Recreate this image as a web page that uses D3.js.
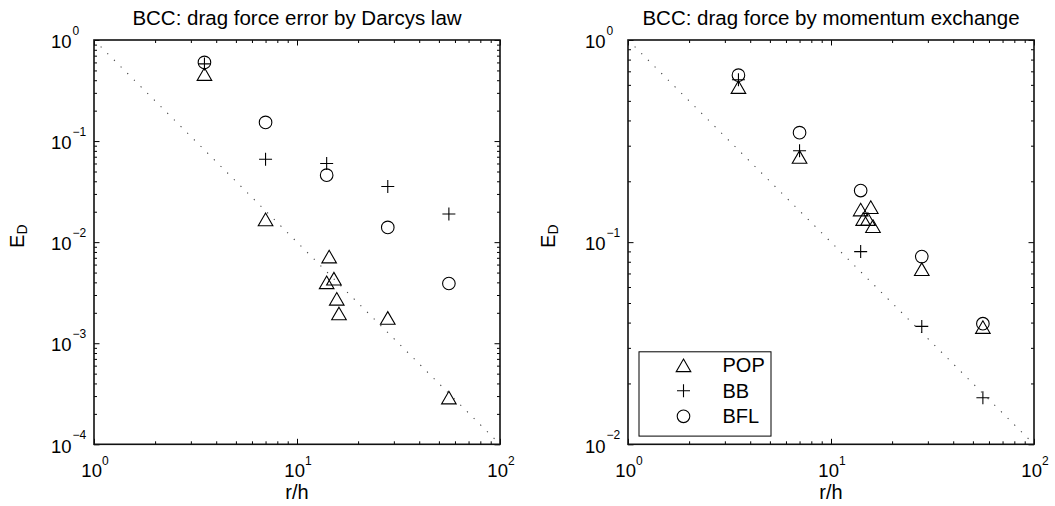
<!DOCTYPE html>
<html>
<head>
<meta charset="utf-8">
<script src="https://cdn.jsdelivr.net/npm/d3@7"></script>
<style>
  body { margin: 0; background: #fff; }
  svg text { font-family: "Liberation Sans", Arial, Helvetica, sans-serif; fill: #000; }
</style>
</head>
<body>
<svg id="fig" width="1055" height="506"></svg>
<script>
// r/h resolutions; the POP scheme has a few extra runs around r/h = 14-16
const rh    = [3.5, 7, 14, 28, 56];
const rhPOP = [3.5, 7, 14, 14.4, 15.2, 15.7, 16.1, 28, 56];

// Drag force error from Darcy's law
const darcyPOP = [0.46, 0.0168, 0.0040, 0.0072, 0.00435, 0.00275, 0.00197, 0.00178, 0.00029];
const darcyBB  = [0.58, 0.066, 0.060, 0.0355, 0.019];
const darcyBFL = [0.60, 0.153, 0.046, 0.014, 0.0039];

// Drag force error from momentum exchange
const momPOP = [0.585, 0.264, 0.145, 0.130, 0.130, 0.149, 0.120, 0.0735, 0.038];
const momBB  = [0.636, 0.283, 0.0898, 0.0383, 0.017];
const momBFL = [0.67, 0.348, 0.18, 0.0848, 0.0395];

// Reference slopes: second order (Darcy) and first order (momentum exchange)
const darcyRefX = [1, 100], darcyRefY = [1, 1e-4];
const momRefX   = [1, 100], momRefY   = [1, 1e-2];

const xDomain = [1, 100];
const darcyYDomain = [1e-4, 1];
const momYDomain = [1e-2, 1];

const titles = ["BCC: drag force error by Darcys law", "BCC: drag force by momentum exchange"];
const legendLabels = ["POP", "BB", "BFL"];

const svg = d3.select("#fig");

// marker shapes
function drawMarker(g, kind, cx, cy) {
  if (kind === "tri") {
    const w = 7.3, h = 6.3;
    g.append("path")
      .attr("d", `M${cx},${cy - h}L${cx + w},${cy + h}L${cx - w},${cy + h}Z`)
      .attr("fill", "none").attr("stroke", "#000").attr("stroke-width", 1.1);
  } else if (kind === "plus") {
    const s = 6.5;
    g.append("path")
      .attr("d", `M${cx - s},${cy}H${cx + s}M${cx},${cy - s}V${cy + s}`)
      .attr("fill", "none").attr("stroke", "#000").attr("stroke-width", 1.1);
  } else {
    g.append("circle").attr("cx", cx).attr("cy", cy).attr("r", 6.3)
      .attr("fill", "none").attr("stroke", "#000").attr("stroke-width", 1.1);
  }
}

function panel(o) {
  const { id, left, top, width, height, yDomain, title, series, refX, refY, legend, labelX } = o;
  const x = d3.scaleLog().domain(xDomain).range([left, left + width]);
  const y = d3.scaleLog().domain(yDomain).range([top + height, top]);
  const g = svg.append("g");

  g.append("clipPath").attr("id", "clip" + id)
    .append("rect").attr("x", left).attr("y", top).attr("width", width).attr("height", height);

  // ticks on all four sides, pointing inward
  const isMajor = v => Math.abs(Math.log10(v) - Math.round(Math.log10(v))) < 1e-9;
  const xT = x.ticks(), yT = y.ticks();
  const xMaj = xT.filter(isMajor), xMin = xT.filter(v => !isMajor(v));
  const yMaj = yT.filter(isMajor), yMin = yT.filter(v => !isMajor(v));
  const axes = [
    [d3.axisBottom(x), `translate(0,${top + height})`, xMaj, xMin],
    [d3.axisTop(x), `translate(0,${top})`, xMaj, xMin],
    [d3.axisLeft(y), `translate(${left},0)`, yMaj, yMin],
    [d3.axisRight(y), `translate(${left + width},0)`, yMaj, yMin]
  ];
  axes.forEach(([ax, tr, maj, min]) => {
    [[maj, 5.5], [min, 3]].forEach(([vals, len]) => {
      const a = g.append("g").attr("transform", tr)
        .call(ax.tickValues(vals).tickSize(-len).tickFormat(""));
      a.select(".domain").remove();
      a.selectAll("line").attr("stroke", "#000").attr("stroke-width", 1);
    });
  });

  // reference slope, dotted
  const line = d3.line().x(d => x(d[0])).y(d => y(d[1]));
  g.append("path")
    .datum(refX.map((v, i) => [v, refY[i]]))
    .attr("d", line)
    .attr("clip-path", `url(#clip${id})`)
    .attr("fill", "none").attr("stroke", "#444").attr("stroke-width", 1.1)
    .attr("stroke-dasharray", "1.2 8.2");

  // data markers
  const mg = g.append("g").attr("clip-path", `url(#clip${id})`);
  series.forEach(s => {
    s.xs.forEach((xv, i) => drawMarker(mg, s.kind, x(xv), y(s.ys[i])));
  });

  // axes frame
  g.append("rect").attr("x", left).attr("y", top).attr("width", width).attr("height", height)
    .attr("fill", "none").attr("stroke", "#111").attr("stroke-width", 1.6);

  // y tick labels: 10 with exponent
  yMaj.forEach(v => {
    const e = Math.round(Math.log10(v));
    const ty = y(v);
    g.append("text").attr("x", left - 22.5).attr("y", ty + 8.2)
      .attr("text-anchor", "end").attr("font-size", 18.5).text("10");
    g.append("text").attr("x", left - 21.5).attr("y", ty - 5.3)
      .attr("text-anchor", "start").attr("font-size", 12).text(String(e).replace("-", "\u2212"));
  });

  // x tick labels
  xMaj.forEach(v => {
    const e = Math.round(Math.log10(v));
    const t = g.append("text").attr("x", x(v) + 1).attr("y", top + height + 32.3)
      .attr("text-anchor", "middle").attr("font-size", 18.5);
    t.append("tspan").text("10");
    t.append("tspan").attr("font-size", 12).attr("dy", -11.5).text(String(e).replace("-", "\u2212"));
  });

  // title and axis labels
  g.append("text").attr("x", left + width / 2).attr("y", 24.5)
    .attr("text-anchor", "middle").attr("font-size", 20.5).text(title);
  g.append("text").attr("x", left + width / 2).attr("y", 499)
    .attr("text-anchor", "middle").attr("font-size", 20).text("r/h");
  const yl = g.append("text")
    .attr("transform", `translate(${labelX},${top + height / 2 - 6}) rotate(-90)`)
    .attr("text-anchor", "middle").attr("font-size", 20);
  yl.append("tspan").text("E");
  yl.append("tspan").attr("font-size", 14).attr("dy", 3).text("D");

  // legend
  if (legend) {
    const lx = left + 11, ly = top + height - 92.5, lw = 132, lh = 84.3;
    g.append("rect").attr("x", lx).attr("y", ly).attr("width", lw).attr("height", lh)
      .attr("fill", "#fff").attr("stroke", "#000").attr("stroke-width", 1);
    series.forEach((s, i) => {
      const cy = ly + 13.5 + i * 25.5;
      drawMarker(g, s.kind, lx + 44.5, cy);
      g.append("text").attr("x", lx + 83.5).attr("y", cy + 7)
        .attr("font-size", 20).text(legendLabels[i]);
    });
  }
}

panel({
  id: "a", left: 94, top: 40, width: 406, height: 404.3,
  yDomain: darcyYDomain, title: titles[0], labelX: 24,
  refX: darcyRefX, refY: darcyRefY, legend: false,
  series: [
    { kind: "tri", xs: rhPOP, ys: darcyPOP },
    { kind: "plus", xs: rh, ys: darcyBB },
    { kind: "circ", xs: rh, ys: darcyBFL }
  ]
});

panel({
  id: "b", left: 628, top: 40, width: 406, height: 404.3,
  yDomain: momYDomain, title: titles[1], labelX: 555,
  refX: momRefX, refY: momRefY, legend: true,
  series: [
    { kind: "tri", xs: rhPOP, ys: momPOP },
    { kind: "plus", xs: rh, ys: momBB },
    { kind: "circ", xs: rh, ys: momBFL }
  ]
});
</script>
</body>
</html>
